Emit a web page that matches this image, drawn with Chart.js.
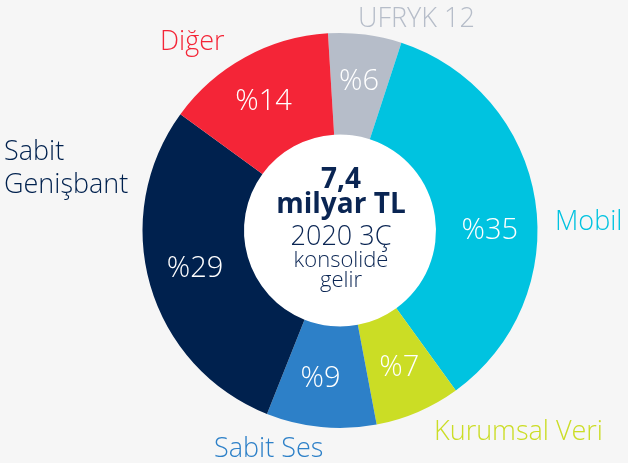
<!DOCTYPE html>
<html>
<head>
<meta charset="utf-8">
<script src="https://cdn.jsdelivr.net/npm/chart.js@4"></script>
<style>
  html, body { margin: 0; padding: 0; background: #f6f6f6; }
  #wrap { width: 628px; height: 463px; }
</style>
</head>
<body>
<div id="wrap"><canvas id="chart" width="628" height="463"></canvas></div>
<script>
// segment names, shares (%) and colours, clockwise from the top
const categories = ['UFRYK 12', 'Mobil', 'Kurumsal Veri', 'Sabit Ses', 'Sabit Genişbant', 'Diğer'];
const shares = [6, 35, 7, 9, 29, 14];
const colors = ['#b6bdc9', '#00c3e0', '#cbdd25', '#2d80c8', '#00214e', '#f42537'];

// outer label text placement (left x, baseline y) -- text only, not marks
const outerLabels = [
  { lines: ['UFRYK 12'], x: 358, y: 27 },
  { lines: ['Mobil'], x: 555, y: 230 },
  { lines: ['Kurumsal Veri'], x: 434, y: 440 },
  { lines: ['Sabit Ses'], x: 214, y: 457 },
  { lines: ['Sabit', 'Genişbant'], x: 4, y: 160 },
  { lines: ['Diğer'], x: 160, y: 50 }
];
// small angle nudges (deg) for the percentage labels
const pctNudge = [0, 9, 0, 2, 1.5, -2];

const centerLines = [
  { text: '7,4', font: 'bold 28px "Open Sans"', y: 188 },
  { text: 'milyar TL', font: 'bold 28px "Open Sans"', y: 213 },
  { text: '2020 3Ç', font: '300 27px "Open Sans"', y: 245 },
  { text: 'konsolide', font: '300 22px "Open Sans"', y: 267 },
  { text: 'gelir', font: '300 22px "Open Sans"', y: 287 }
];

const decor = {
  id: 'decor',
  beforeDatasetsDraw(chart) {
    const arc = chart.getDatasetMeta(0).data[0];
    const c = chart.ctx;
    c.save();
    c.fillStyle = '#ffffff';
    c.beginPath();
    c.arc(arc.x, arc.y, arc.innerRadius, 0, Math.PI * 2);
    c.fill();
    c.restore();
  },
  afterDatasetsDraw(chart) {
    const c = chart.ctx;
    const meta = chart.getDatasetMeta(0);
    c.save();
    c.textBaseline = 'middle';
    c.textAlign = 'center';
    c.fillStyle = '#ffffff';
    c.font = '300 29px "Open Sans"';
    meta.data.forEach((a, i) => {
      const mid = (a.startAngle + a.endAngle) / 2 + pctNudge[i] * Math.PI / 180;
      const r = (a.innerRadius + a.outerRadius) / 2 + 3;
      c.fillText('%' + shares[i], a.x + r * Math.cos(mid), a.y + r * Math.sin(mid));
    });
    c.textBaseline = 'alphabetic';
    c.textAlign = 'left';
    c.font = '300 27px "Open Sans"';
    outerLabels.forEach((l, i) => {
      c.fillStyle = colors[i];
      l.lines.forEach((t, k) => c.fillText(t, l.x, l.y + k * 33));
    });
    c.textAlign = 'center';
    c.fillStyle = '#0a2553';
    centerLines.forEach(l => {
      c.font = l.font;
      c.fillText(l.text, 341, l.y);
    });
    c.restore();
  }
};

new Chart(document.getElementById('chart'), {
  type: 'doughnut',
  data: {
    labels: categories,
    datasets: [{
      data: shares,
      backgroundColor: colors,
      borderWidth: 0,
      hoverOffset: 0
    }]
  },
  options: {
    responsive: false,
    animation: false,
    cutout: '48.6%',
    rotation: -3.5,
    layout: { padding: { left: 142.5, right: 90.5, top: 33, bottom: 35 } },
    plugins: {
      legend: { display: false },
      tooltip: { enabled: false }
    }
  },
  plugins: [decor]
});
</script>
</body>
</html>
